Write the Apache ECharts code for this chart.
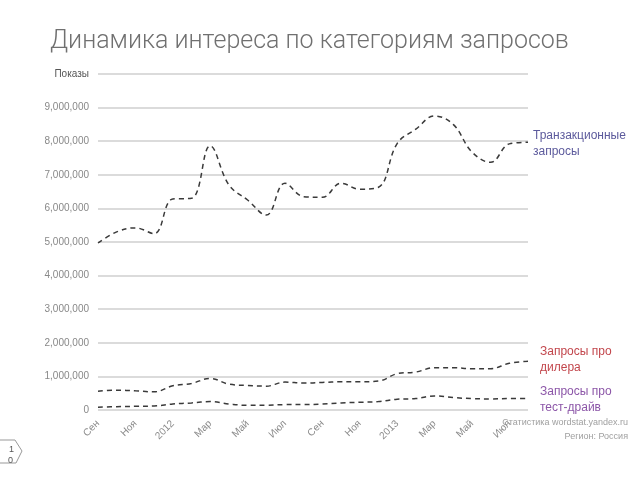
<!DOCTYPE html>
<html><head><meta charset="utf-8">
<script src="https://cdn.jsdelivr.net/npm/echarts@6/dist/echarts.min.js"></script>
<style>html,body{margin:0;padding:0;background:#fff}#c{width:640px;height:480px}</style>
</head><body><div id="c"></div>
<script>
const months = ['Сен','Окт','Ноя','Дек','2012','Фев','Мар','Апр','Май','Июн','Июл','Авг',
                'Сен','Окт','Ноя','Дек','2013','Фев','Мар','Апр','Май','Июн','Июл','Авг'];
const transactional = [4970000,5300000,5420000,5250000,6280000,6300000,7860000,6700000,6250000,5800000,6750000,6350000,
                       6330000,6750000,6570000,6630000,7930000,8360000,8750000,8500000,7680000,7370000,7920000,7970000];
const dealer = [560000,590000,570000,540000,720000,790000,940000,770000,730000,710000,830000,800000,
                820000,840000,840000,860000,1080000,1130000,1260000,1260000,1230000,1230000,1390000,1450000];
const testDrive = [80000,100000,110000,120000,180000,210000,250000,180000,140000,140000,160000,160000,
                   180000,210000,230000,250000,320000,340000,420000,370000,340000,330000,340000,340000];
const seriesNames = ['Транзакционные\nзапросы','Запросы про\nдилера','Запросы про\nтест-драйв'];

const chart = echarts.init(document.getElementById('c'), null, {renderer:'canvas'});
const lineStyle = {color:'#3a3a3a', width:1.5, type:[5,4]};
function mk(name, data){
  return {name:name, type:'line', data:data, smooth:0.4, showSymbol:false, symbol:'none',
          lineStyle:lineStyle, animation:false};
}
const ff = 'Liberation Sans, Arial, sans-serif';
chart.setOption({
  animation:false,
  title:{text:'Динамика интереса по категориям запросов', left:45, top:24,
    textStyle:{fontFamily:'Roboto, Liberation Sans, sans-serif', fontWeight:300, fontSize:25, color:'#707070'}},
  grid:{left:98, right:112, top:74, bottom:70, containLabel:false},
  xAxis:{type:'category', data:months, boundaryGap:false,
    axisLine:{show:false}, axisTick:{show:false},
    axisLabel:{interval:1, rotate:45, color:'#8a8a8a', fontSize:10, margin:12, fontFamily:ff}},
  yAxis:{type:'value', min:0, max:10000000, interval:1000000,
    axisLine:{show:false}, axisTick:{show:false},
    splitLine:{lineStyle:{color:'#cfcfcf', width:1.5}},
    axisLabel:{margin:9, color:'#888', fontSize:10, fontFamily:ff,
      formatter:function(v){ if(v===10000000) return '{p|Показы}'; return v.toLocaleString('en-US'); },
      rich:{p:{color:'#555', fontSize:10, fontFamily:ff}}}},
  series:[mk(seriesNames[0], transactional), mk(seriesNames[1], dealer), mk(seriesNames[2], testDrive)],
  graphic:[
    {type:'text', left:533, top:128, style:{text:seriesNames[0], fill:'#5c5a9c', fontSize:12, lineHeight:16, fontFamily:ff}},
    {type:'text', left:540, top:344, style:{text:seriesNames[1], fill:'#c2464c', fontSize:12, lineHeight:16, fontFamily:ff}},
    {type:'text', left:540, top:384, style:{text:seriesNames[2], fill:'#8c56a8', fontSize:12, lineHeight:16, fontFamily:ff}},
    {type:'text', right:12, top:418, style:{text:'Статистика wordstat.yandex.ru', fill:'#a0a0a0', fontSize:9, align:'right', fontFamily:ff}},
    {type:'text', right:12, top:432, style:{text:'Регион: Россия', fill:'#a0a0a0', fontSize:9, align:'right', fontFamily:ff}},
    {type:'polyline', shape:{points:[[0,440],[15,440],[22,451],[16,463],[0,463]]},
      style:{stroke:'#999', lineWidth:1, fill:'none'}},
    {type:'text', left:9, top:445, style:{text:'1', fill:'#555', fontSize:9, fontFamily:ff}},
    {type:'text', left:8, top:456, style:{text:'0', fill:'#555', fontSize:9, fontFamily:ff}}
  ]
});
</script></body></html>
